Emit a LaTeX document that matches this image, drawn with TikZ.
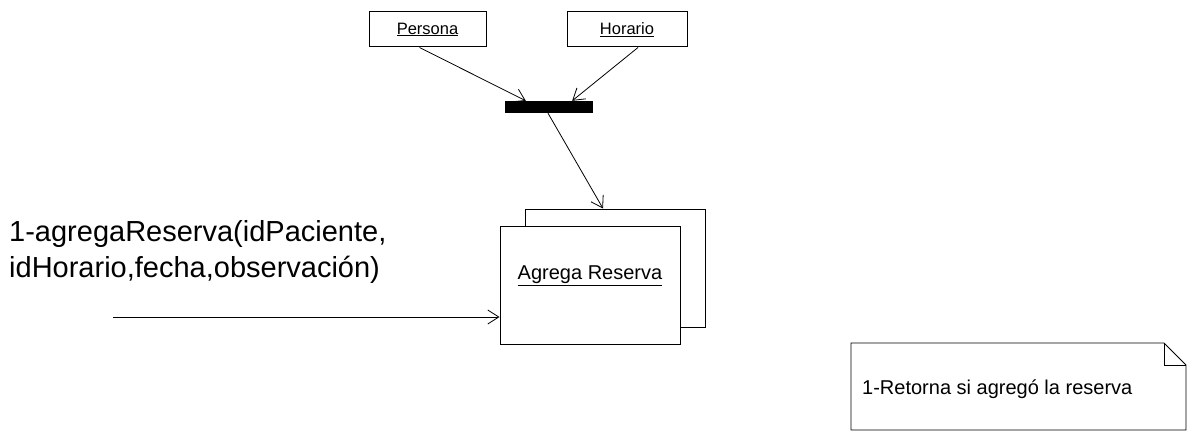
\documentclass[tikz,border=0pt]{standalone}
\usepackage{fontspec}
\setmainfont{Liberation Sans}
\usetikzlibrary{arrows.meta}

\begin{document}
\begin{tikzpicture}[x=1pt, y=-1pt,
    objbox/.style={draw, line width=1pt, minimum width=117pt, minimum height=35pt, inner sep=0pt, font=\fontsize{16.5}{19}\selectfont},
    multibox/.style={draw, line width=1pt, fill=white, minimum width=180pt, minimum height=118pt, inner sep=0pt},
    msg/.style={-{Straight Barb[length=11pt, width=14pt]}, line width=0.8pt}]
  \useasboundingbox (0,0) rectangle (1189,433);

  % Objects on top
  \node[objbox] (persona) at (427.5,29.5) {\underline{Persona}};
  \node[objbox, minimum width=120pt] (horario) at (627,29.5) {\underline{Horario}};

  % Join bar
  \node[fill=black, minimum width=88pt, minimum height=12pt, inner sep=0pt] (bar) at (549,107) {};
  \draw[msg] ([xshift=-8pt]persona.south) -- ([xshift=21pt]bar.north west);
  \draw[msg] ([xshift=11pt]horario.south) -- ([xshift=-21pt]bar.north east);

  % Multi-object
  \node[multibox] (back) at (615,268) {};
  \node[multibox] (agrega) at (590,285.5) {};
  \node[font=\fontsize{20}{22}\selectfont, inner sep=0pt] (agregalbl) at ([yshift=10pt]agrega.center) {\underline{Agrega Reserva}};
  \draw[msg] ([xshift=-1pt]bar.south) -- ([xshift=-12pt]back.north);

  % Incoming message
  \coordinate (start) at (113,317);
  \draw[msg] (start) -- (start -| agrega.west);
  \node[anchor=north west, align=left, inner sep=0pt, font=\fontsize{29}{36}\selectfont] (call) at (9,220)
    {1-agregaReserva(idPaciente,\\idHorario,fecha,observación)};

  % Note
  \draw[line width=0.8pt] (851,343) -- (1164,343) -- (1186,365) -- (1186,430) -- (851,430) -- cycle;
  \draw[line width=0.8pt] (1164,343) -- (1164,365) -- (1186,365);
  \node[anchor=west, inner sep=0pt, font=\fontsize{20}{22}\selectfont] (ret) at (862,389) {1-Retorna si agregó la reserva};
\end{tikzpicture}
\end{document}
